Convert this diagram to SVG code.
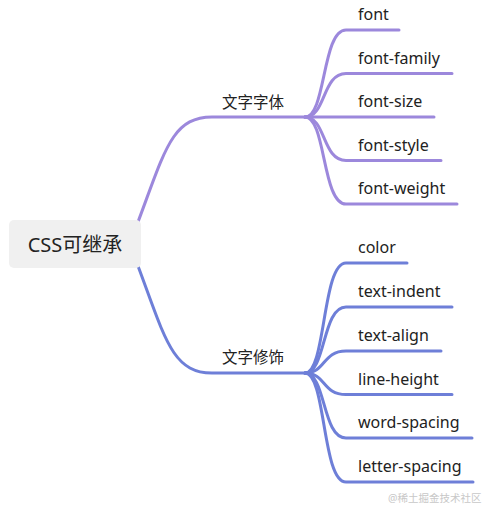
<svg xmlns="http://www.w3.org/2000/svg" width="483" height="508" viewBox="0 0 483 508">
<style>
text{font-family:"Noto Sans","Noto Sans CJK SC",sans-serif;fill:#222}
.leaf{font-size:16px}
.mid{font-size:15.5px}
.root{font-size:20px}
.c1{fill:none;stroke:#9c88dc;stroke-width:3;stroke-linecap:round}
.c2{fill:none;stroke:#6e7fd8;stroke-width:3;stroke-linecap:round}
.wm{font-size:10.5px;fill:#c8c8c8}
</style>
<rect width="483" height="508" fill="#ffffff"/>
<g id="connectors">
<path class="c1" d="M138,222 C165,150 172,117 212,117 H305"/>
<path class="c2" d="M138,266 C165,338 172,373 212,373 H305"/>
<path class="c1" d="M305,117 C326,117 322,30 346,30 H399"/>
<path class="c1" d="M305,117 C326,117 322,73.5 346,73.5 H452"/>
<path class="c1" d="M305,117 H434"/>
<path class="c1" d="M305,117 C326,117 322,160.5 346,160.5 H441"/>
<path class="c1" d="M305,117 C326,117 322,204 346,204 H457"/>
<path class="c2" d="M305,373 C326,373 322,263 346,263 H407"/>
<path class="c2" d="M305,373 C326,373 322,307 346,307 H452"/>
<path class="c2" d="M305,373 C326,373 322,351 346,351 H441"/>
<path class="c2" d="M305,373 C326,373 322,394.5 346,394.5 H452"/>
<path class="c2" d="M305,373 C326,373 322,438 346,438 H472"/>
<path class="c2" d="M305,373 C326,373 322,482 346,482 H473"/>
</g>
<g id="root">
<rect x="9" y="220" width="132" height="48" rx="5" fill="#f0f0f0"/>
<text class="root" x="75" y="252" text-anchor="middle">CSS可继承</text>
</g>
<g id="font-group"><text class="mid" x="222" y="108">文字字体</text></g>
<g id="decoration-group"><text class="mid" x="222" y="363">文字修饰</text></g>
<g id="leaf-font"><text class="leaf" x="358" y="20">font</text></g>
<g id="leaf-font-family"><text class="leaf" x="358" y="63.5">font-family</text></g>
<g id="leaf-font-size"><text class="leaf" x="358" y="107">font-size</text></g>
<g id="leaf-font-style"><text class="leaf" x="358" y="150.5">font-style</text></g>
<g id="leaf-font-weight"><text class="leaf" x="358" y="194">font-weight</text></g>
<g id="leaf-color"><text class="leaf" x="358" y="253">color</text></g>
<g id="leaf-text-indent"><text class="leaf" x="358" y="297">text-indent</text></g>
<g id="leaf-text-align"><text class="leaf" x="358" y="341">text-align</text></g>
<g id="leaf-line-height"><text class="leaf" x="358" y="384.5">line-height</text></g>
<g id="leaf-word-spacing"><text class="leaf" x="358" y="428">word-spacing</text></g>
<g id="leaf-letter-spacing"><text class="leaf" x="358" y="472">letter-spacing</text></g>
<text class="wm" x="388" y="502">@稀土掘金技术社区</text>
</svg>
